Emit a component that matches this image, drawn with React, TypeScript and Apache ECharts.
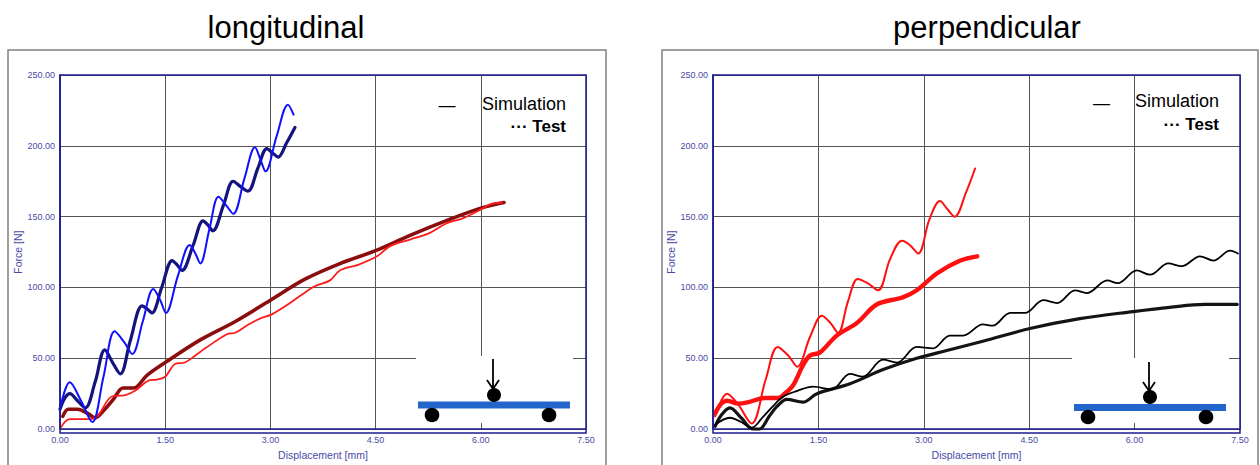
import React, { useEffect, useRef } from "react";
import * as echarts from "echarts";

const FONT = "'Liberation Sans', Arial, sans-serif";

const xTicks = [0, 1.5, 3, 4.5, 6, 7.5];
const yTicks = [0, 50, 100, 150, 200, 250];
const chartTitles = ["longitudinal", "perpendicular"];
const legendSim = "Simulation";
const legendTest = "··· Test";
const xName = "Displacement [mm]";
const yName = "Force [N]";

// longitudinal
const longSimBlue: number[][] = [
  [0.0, 14], [0.14, 33], [0.3, 20], [0.46, 5], [0.62, 37], [0.78, 69], [0.92, 61], [1.03, 53],
  [1.18, 76], [1.33, 99], [1.43, 91], [1.51, 82], [1.68, 108], [1.85, 130], [1.93, 124], [2.0, 117],
  [2.13, 141], [2.26, 164], [2.37, 158], [2.47, 152], [2.63, 177], [2.78, 199], [2.86, 190], [2.93, 182],
  [3.09, 207], [3.25, 229], [3.33, 222],
];
const longTestNavy: number[][] = [
  [0.0, 14], [0.07, 22], [0.14, 25], [0.25, 20], [0.36, 15], [0.5, 33], [0.64, 56], [0.75, 47], [0.86, 39],
  [1.0, 62], [1.17, 87], [1.24, 85], [1.31, 82], [1.45, 100], [1.6, 119], [1.67, 116], [1.74, 112],
  [1.9, 130], [2.04, 147], [2.11, 144], [2.18, 140], [2.33, 158], [2.47, 175], [2.58, 171], [2.68, 168],
  [2.82, 184], [2.95, 198], [3.03, 195], [3.11, 192], [3.23, 202], [3.35, 213],
];
const longTestDarkRed: number[][] = [
  [0.04, 9], [0.12, 14], [0.25, 14], [0.4, 11], [0.5, 8], [0.62, 13], [0.76, 21], [0.9, 29], [1.05, 29],
  [1.24, 38], [1.5, 47], [2.0, 63], [2.5, 76], [3.0, 91], [3.5, 106], [4.0, 117], [4.5, 126], [5.0, 137],
  [5.5, 147], [6.0, 156], [6.33, 160],
];
const longSimRed: number[][] = [
  [0.01, 1], [0.14, 7], [0.4, 7], [0.53, 9], [0.74, 23], [0.93, 24], [1.07, 27], [1.25, 34], [1.38, 35],
  [1.5, 37], [1.64, 46], [1.78, 47], [1.93, 52], [2.07, 57], [2.38, 67], [2.5, 68], [2.66, 73], [2.85, 78],
  [3.02, 81], [3.28, 89], [3.45, 95], [3.64, 101], [3.85, 105], [3.99, 112], [4.25, 116], [4.52, 122],
  [4.7, 129], [5.0, 134], [5.25, 138], [5.5, 145], [5.75, 149], [6.0, 155], [6.15, 159], [6.3, 160],
];

// perpendicular
const perpSimRed: number[][] = [
  [0.03, 9], [0.2, 25], [0.35, 18], [0.55, 4], [0.75, 35], [0.92, 58], [1.07, 52], [1.2, 44], [1.38, 65],
  [1.55, 80], [1.67, 75], [1.78, 68], [1.92, 90], [2.06, 106], [2.2, 103], [2.35, 98], [2.52, 120],
  [2.69, 133], [2.8, 130], [2.92, 124], [3.08, 148], [3.23, 161], [3.34, 155], [3.44, 150], [3.6, 167],
  [3.73, 184],
];
const perpTestRed: number[][] = [
  [0.03, 11], [0.12, 18], [0.2, 20], [0.36, 18], [0.5, 19], [0.74, 22], [0.93, 22], [1.02, 25],
  [1.14, 31], [1.27, 44], [1.38, 52], [1.52, 54], [1.76, 66], [2.05, 75], [2.33, 88], [2.7, 93],
  [2.9, 98], [3.19, 110], [3.52, 119], [3.76, 122],
];
const perpSimBlack: number[][] = [
  [0.03, 3], [0.24, 8], [0.4, 5], [0.55, 1], [0.7, 8], [0.85, 16], [1.0, 23], [1.2, 27], [1.42, 30],
  [1.69, 28], [1.95, 39], [2.13, 37], [2.42, 49], [2.62, 47], [2.9, 58], [3.13, 57], [3.37, 66],
  [3.56, 66], [3.84, 74], [3.98, 73], [4.23, 82], [4.44, 82], [4.7, 91], [4.9, 89], [5.15, 98],
  [5.32, 96], [5.61, 105], [5.76, 103], [6.03, 112], [6.22, 109], [6.48, 117], [6.67, 115], [6.93, 122],
  [7.12, 119], [7.36, 126], [7.47, 124],
];
const perpTestBlack: number[][] = [
  [0.03, 2], [0.12, 10], [0.24, 15], [0.4, 8], [0.57, 0], [0.66, 0], [0.8, 9], [0.91, 16], [1.05, 21],
  [1.28, 19], [1.48, 25], [1.95, 32], [2.42, 42], [2.9, 50], [3.37, 56], [3.84, 62], [4.51, 71],
  [5.22, 78], [5.98, 83], [6.5, 86], [7.0, 88], [7.46, 88],
];

const NAVY = "#1c1c94";
const LABEL = "#4a4aa6";
const GRID = "#555555";

function xAxis(gridIndex: number) {
  return {
    type: "value",
    gridIndex,
    min: xTicks[0],
    max: xTicks[xTicks.length - 1],
    interval: xTicks[1] - xTicks[0],
    name: xName,
    nameLocation: "middle",
    nameGap: 18,
    nameTextStyle: { color: LABEL, fontSize: 10.5, fontFamily: FONT },
    axisLine: { show: true, onZero: false, lineStyle: { color: NAVY, width: 1.5 } },
    axisTick: { show: false },
    axisLabel: { color: LABEL, fontSize: 9, margin: 6, fontFamily: FONT, formatter: (v: number) => v.toFixed(2) },
    splitLine: { show: true, lineStyle: { color: GRID, width: 1 } },
  };
}
function yAxis(gridIndex: number) {
  return {
    type: "value",
    gridIndex,
    min: yTicks[0],
    max: yTicks[yTicks.length - 1],
    interval: yTicks[1] - yTicks[0],
    name: yName,
    nameLocation: "middle",
    nameGap: 34,
    nameTextStyle: { color: LABEL, fontSize: 10.5, fontFamily: FONT },
    axisLine: { show: true, onZero: false, lineStyle: { color: NAVY, width: 1.5 } },
    axisTick: { show: false },
    axisLabel: { color: LABEL, fontSize: 9, margin: 5, fontFamily: FONT, formatter: (v: number) => v.toFixed(2) },
    splitLine: { show: true, lineStyle: { color: GRID, width: 1 } },
  };
}
function line(name: string, data: number[][], color: string, width: number, idx: number, z = 3) {
  return {
    type: "line",
    name,
    xAxisIndex: idx,
    yAxisIndex: idx,
    data,
    smooth: 0.35,
    symbol: "none",
    showSymbol: false,
    z,
    lineStyle: { color, width, cap: "round", join: "round" },
  };
}

function inset(x0: number, y0: number, w: number, h: number, barX: number, barY: number, barW: number, topX: number, topY: number, supL: number, supR: number, supY: number, arrowTop: number) {
  return [
    { type: "rect", z: 60, shape: { x: x0, y: y0, width: w, height: h }, style: { fill: "#ffffff" } },
    { type: "rect", z: 61, shape: { x: barX, y: barY, width: barW, height: 7 }, style: { fill: "#2266cc" } },
    { type: "circle", z: 62, shape: { cx: topX, cy: topY, r: 7 }, style: { fill: "#000" } },
    { type: "circle", z: 62, shape: { cx: supL, cy: supY, r: 7.3 }, style: { fill: "#000" } },
    { type: "circle", z: 62, shape: { cx: supR, cy: supY, r: 7.3 }, style: { fill: "#000" } },
    { type: "line", z: 62, shape: { x1: topX - 1, y1: arrowTop, x2: topX - 1, y2: topY - 6 }, style: { stroke: "#000", lineWidth: 1.8 } },
    { type: "polyline", z: 62, shape: { points: [[topX - 7, topY - 15], [topX - 1, topY - 6], [topX + 5, topY - 15]] }, style: { stroke: "#000", lineWidth: 1.8, fill: "none" } },
  ];
}

function legend(dashX: number, dashY: number, simX: number, simY: number, testRight: number, testY: number) {
  return [
    { type: "text", z: 70, x: dashX, y: dashY, style: { text: "—", font: `17px ${FONT}`, fill: "#000", align: "center", verticalAlign: "middle" } },
    { type: "text", z: 70, x: simX, y: simY, style: { text: legendSim, font: `18px ${FONT}`, fill: "#000", align: "left", verticalAlign: "middle" } },
    { type: "text", z: 70, x: testRight, y: testY, style: { text: legendTest, font: `bold 17px ${FONT}`, fill: "#000", align: "right", verticalAlign: "middle" } },
  ];
}

const option: any = {
  animation: false,
  backgroundColor: "#ffffff",
  grid: [
    { left: 60, top: 75, width: 526, height: 358 },
    { left: 713, top: 75, width: 527, height: 358 },
  ],
  xAxis: [xAxis(0), xAxis(1)],
  yAxis: [yAxis(0), yAxis(1)],
  series: [
    line("longTestDarkRed", longTestDarkRed, "#8c0d0d", 3.6, 0),
    line("longSimRed", longSimRed, "#ff1a1a", 1.8, 0, 4),
    line("longTestNavy", longTestNavy, "#14147e", 3.2, 0),
    line("longSimBlue", longSimBlue, "#1010ff", 2, 0, 4),
    line("perpTestBlack", perpTestBlack, "#141414", 3.2, 1),
    line("perpSimBlack", perpSimBlack, "#000000", 1.8, 1, 4),
    line("perpTestRed", perpTestRed, "#ff1010", 4.4, 1),
    line("perpSimRed", perpSimRed, "#ff1010", 2, 1, 4),
  ],
  graphic: [
    { type: "rect", z: 50, shape: { x: 8, y: 50, width: 598, height: 430 }, style: { fill: "none", stroke: "#808080", lineWidth: 1.5 } },
    { type: "rect", z: 50, shape: { x: 662, y: 50, width: 596, height: 430 }, style: { fill: "none", stroke: "#808080", lineWidth: 1.5 } },
    { type: "rect", z: 50, shape: { x: 60, y: 75, width: 526, height: 358 }, style: { fill: "none", stroke: NAVY, lineWidth: 1.5 } },
    { type: "rect", z: 50, shape: { x: 713, y: 75, width: 527, height: 358 }, style: { fill: "none", stroke: NAVY, lineWidth: 1.5 } },
    { type: "text", z: 70, x: 286, y: 27, style: { text: chartTitles[0], font: `31px ${FONT}`, fill: "#000", align: "center", verticalAlign: "middle" } },
    { type: "text", z: 70, x: 987, y: 27, style: { text: chartTitles[1], font: `31px ${FONT}`, fill: "#000", align: "center", verticalAlign: "middle" } },
    ...legend(447, 105, 482, 104, 566, 126.5),
    ...legend(1101.5, 103, 1135, 101, 1219, 124),
    ...inset(416, 356, 157, 67, 418, 401.5, 152, 494, 395, 432, 549, 415, 359),
    ...inset(1072, 358, 157, 65, 1074, 404, 152, 1150, 397, 1088, 1206, 417, 362),
  ],
};

export default function App() {
  const ref = useRef<HTMLDivElement>(null);
  useEffect(() => {
    document.body.style.margin = "0";
    const chart = echarts.init(ref.current!, null, { renderer: "svg" });
    chart.setOption(option);
    return () => chart.dispose();
  }, []);
  return <div ref={ref} style={{ width: 1260, height: 465 }} />;
}
